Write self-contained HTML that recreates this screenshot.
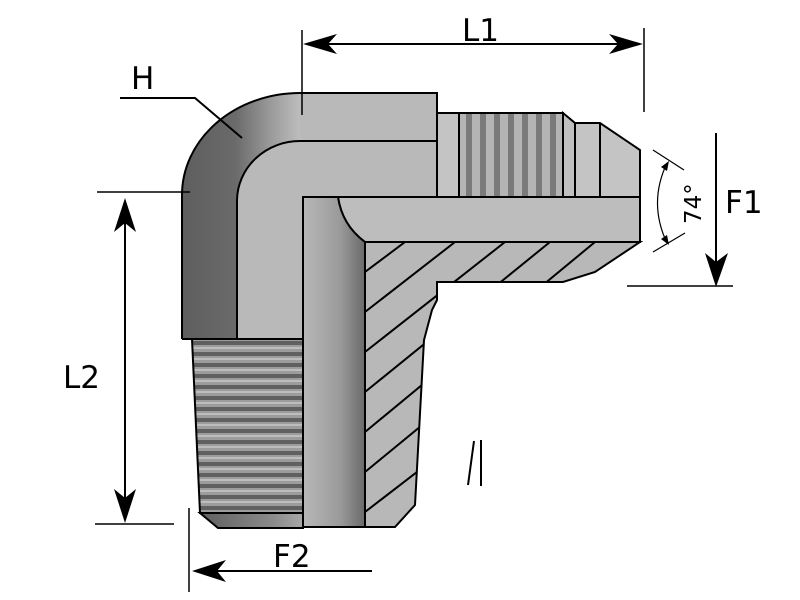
<!DOCTYPE html>
<html><head><meta charset="utf-8"><style>
html,body{margin:0;padding:0;background:#fff;}
svg{display:block;}
text{font-family:"DejaVu Sans","Liberation Sans",sans-serif;fill:#000;}
</style></head><body>
<svg width="800" height="600" viewBox="0 0 800 600" xmlns="http://www.w3.org/2000/svg">
<defs>
<linearGradient id="elb" gradientUnits="userSpaceOnUse" x1="182" y1="0" x2="300" y2="0">
<stop offset="0" stop-color="#5e5e5e"/><stop offset="0.45" stop-color="#6a6a6a"/><stop offset="0.75" stop-color="#9a9a9a"/><stop offset="1" stop-color="#bdbdbd"/></linearGradient>
<linearGradient id="bore" x1="0" y1="0" x2="1" y2="0">
<stop offset="0" stop-color="#b8b8b8"/><stop offset="0.6" stop-color="#9a9a9a"/><stop offset="1" stop-color="#6a6a6a"/></linearGradient>
<linearGradient id="bthr" x1="0" y1="0" x2="1" y2="0">
<stop offset="0" stop-color="#606060"/><stop offset="0.7" stop-color="#8a8a8a"/><stop offset="1" stop-color="#a8a8a8"/></linearGradient>
<pattern id="hthr" width="10" height="11" patternUnits="userSpaceOnUse">
<rect width="10" height="11" fill="#9c9c9c"/><rect y="0" width="10" height="4" fill="#606060"/><rect y="6" width="10" height="2" fill="#bdbdbd"/></pattern>
<pattern id="vthr" width="14" height="10" patternUnits="userSpaceOnUse">
<rect width="14" height="10" fill="#b4b4b4"/><rect x="4" width="6" height="10" fill="#7a7a7a"/></pattern>
<clipPath id="hc"><path d="M365,242 L640,242 L595,272 L563,282 L437,282 L437,300 L432,310 L424,340 L415,505 L395,527 L365,527 Z"/></clipPath>
</defs>

<path d="M182,339 L182,195 A118,102 0 0 1 300,93 L437,93 L437,197 L303,197 L303,339 Z" fill="#b9b9b9"/>
<path d="M182,339 L182,195 A118,102 0 0 1 300,93 L300,141 A63,60 0 0 0 237,200 L237,339 Z" fill="url(#elb)"/>
<path d="M182,339 L182,195 A118,102 0 0 1 300,93 L437,93 L437,197" fill="none" stroke="#000" stroke-width="2"/>
<path d="M237,339 L237,200 A63,60 0 0 1 300,141 L437,141" fill="none" stroke="#000" stroke-width="2"/>
<line x1="182" y1="339" x2="303" y2="339" stroke="#000" stroke-width="2"/>

<rect x="437" y="113" width="126" height="84" fill="url(#vthr)" stroke="#000" stroke-width="2"/>
<rect x="437" y="113" width="22" height="84" fill="#c4c4c4" stroke="#000" stroke-width="2"/>
<path d="M563,113 L575,123 L575,197 L563,197 Z" fill="#c0c0c0" stroke="#000" stroke-width="2"/>
<path d="M575,123 L600,123 L640,150 L640,197 L575,197 Z" fill="#c4c4c4" stroke="#000" stroke-width="2"/>
<line x1="600" y1="123" x2="600" y2="197" stroke="#000" stroke-width="2"/>

<path d="M338,197 L640,197 L640,242 L365,242 Q342,225 338,197 Z" fill="#bdbdbd" stroke="#000" stroke-width="2"/>

<path d="M365,242 L640,242 L595,272 L563,282 L437,282 L437,300 L432,310 L424,340 L415,505 L395,527 L365,527 Z" fill="#b8b8b8" stroke="#000" stroke-width="2"/>
<g clip-path="url(#hc)" stroke="#000" stroke-width="2">
<line x1="365" y1="272" x2="405" y2="242"/>
<line x1="365" y1="312" x2="455" y2="242"/>
<line x1="365" y1="352" x2="505" y2="242"/>
<line x1="365" y1="392" x2="550" y2="242"/>
<line x1="365" y1="432" x2="595" y2="242"/>
<line x1="365" y1="472" x2="645" y2="242"/>
<line x1="365" y1="512" x2="430" y2="462"/>
</g>

<path d="M303,197 L338,197 Q342,225 365,242 L365,527 L303,527 Z" fill="url(#bore)" stroke="#000" stroke-width="2"/>

<path d="M192,339 L303,339 L303,513 L200,513 Z" fill="url(#hthr)" stroke="#000" stroke-width="2"/>
<path d="M200,513 L303,513 L303,528 L218,528 Z" fill="url(#bthr)" stroke="#000" stroke-width="2"/>

<g stroke="#000" stroke-width="1.5">
<line x1="302" y1="30" x2="302" y2="115"/><line x1="644" y1="28" x2="644" y2="112"/>
<line x1="310" y1="44" x2="636" y2="44" stroke-width="2"/>
</g>
<path d="M303,44 L337,34 L328,44 L337,54 Z"/>
<path d="M643,44 L609,34 L618,44 L609,54 Z"/>
<text x="462" y="41" font-size="31">L1</text>

<text x="131" y="89" font-size="31">H</text>
<path d="M120,98 L195,98 L242,138" fill="none" stroke="#000" stroke-width="2"/>

<g stroke="#000" stroke-width="1.5">
<line x1="97" y1="192" x2="190" y2="192"/><line x1="95" y1="524" x2="174" y2="524"/>
<line x1="125" y1="210" x2="125" y2="512" stroke-width="2"/>
</g>
<path d="M125,198 L114,232 L125,223 L136,232 Z"/>
<path d="M125,523 L114,489 L125,498 L136,489 Z"/>
<text x="63" y="388" font-size="31">L2</text>

<line x1="716" y1="133" x2="716" y2="270" stroke="#000" stroke-width="2"/>
<path d="M716,287 L705,253 L716,262 L728,253 Z"/>
<line x1="627" y1="286" x2="733" y2="286" stroke="#000" stroke-width="1.5"/>
<text x="725" y="213" font-size="31">F1</text>

<g stroke="#000" stroke-width="1.2" fill="none">
<line x1="653" y1="150" x2="684" y2="170"/>
<line x1="653" y1="252" x2="685" y2="233"/>
<path d="M667,163 Q648,203 667,243"/>
</g>
<path d="M669,161 L661,167 L667,171 Z"/>
<path d="M669,245 L661,239 L667,235 Z"/>
<text transform="translate(701,224) rotate(-90)" font-size="23">74°</text>

<line x1="189" y1="508" x2="189" y2="592" stroke="#000" stroke-width="1.5"/>
<line x1="205" y1="571" x2="372" y2="571" stroke="#000" stroke-width="2"/>
<path d="M192,571 L226,560 L217,571 L226,582 Z"/>
<text x="273" y="567" font-size="31">F2</text>

<g stroke="#000" stroke-width="2">
<line x1="468" y1="485" x2="474" y2="441"/>
<line x1="481" y1="440" x2="481" y2="486"/>
</g>
</svg>
</body></html>
